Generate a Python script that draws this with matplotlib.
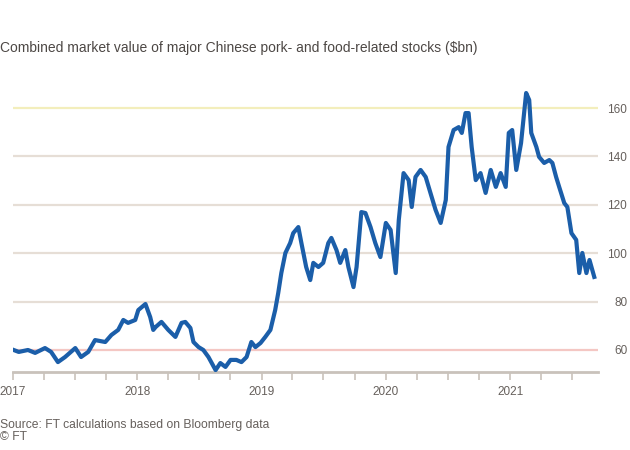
import matplotlib
matplotlib.use("Agg")
import matplotlib.pyplot as plt
import matplotlib.dates as mdates
import pandas as pd

plt.rcParams['font.family'] = ['Liberation Sans', 'DejaVu Sans']

dates = ["2017-01-03", "2017-01-18", "2017-02-14", "2017-03-07", "2017-04-05", "2017-04-23",
         "2017-05-13", "2017-06-03", "2017-07-03", "2017-07-20", "2017-08-10", "2017-08-30",
         "2017-09-29", "2017-10-17", "2017-11-06", "2017-11-21", "2017-12-05", "2017-12-26",
         "2018-01-04", "2018-01-25", "2018-02-08", "2018-02-17", "2018-02-24", "2018-03-13",
         "2018-04-02", "2018-04-23", "2018-05-11", "2018-05-22", "2018-06-06", "2018-06-15",
         "2018-06-30", "2018-07-14", "2018-07-29", "2018-08-19", "2018-09-02", "2018-09-17",
         "2018-10-02", "2018-10-19", "2018-11-03", "2018-11-18", "2018-12-02", "2018-12-14",
         "2018-12-29", "2019-01-12", "2019-01-27", "2019-02-10", "2019-02-19", "2019-02-28",
         "2019-03-12", "2019-03-26", "2019-04-04", "2019-04-19", "2019-04-28", "2019-05-12",
         "2019-05-24", "2019-06-02", "2019-06-17", "2019-07-01", "2019-07-16", "2019-07-25",
         "2019-08-09", "2019-08-20", "2019-09-04", "2019-09-13", "2019-09-28", "2019-10-07",
         "2019-10-21", "2019-11-02", "2019-11-17", "2019-12-01", "2019-12-16", "2020-01-01",
         "2020-01-15", "2020-01-30", "2020-02-08", "2020-02-22", "2020-03-08", "2020-03-17",
         "2020-03-28", "2020-04-12", "2020-04-27", "2020-05-11", "2020-05-26", "2020-06-10",
         "2020-06-25", "2020-07-03", "2020-07-18", "2020-08-02", "2020-08-11", "2020-08-22",
         "2020-08-31", "2020-09-09", "2020-09-21", "2020-10-05", "2020-10-20", "2020-11-04",
         "2020-11-19", "2020-12-03", "2020-12-18", "2020-12-27", "2021-01-06", "2021-01-18",
         "2021-02-01", "2021-02-16", "2021-02-25", "2021-03-03", "2021-03-18", "2021-03-26",
         "2021-04-10", "2021-04-25", "2021-05-04", "2021-05-15", "2021-05-24", "2021-06-08",
         "2021-06-17", "2021-06-29", "2021-07-13", "2021-07-22", "2021-07-31", "2021-08-12",
         "2021-08-21", "2021-09-04"]

values = [60.0, 59.2, 60.0, 58.8, 60.8, 59.2,
          55.0, 57.1, 60.8, 57.1, 59.2, 64.1,
          63.3, 66.2, 68.3, 72.4, 71.2, 72.4,
          76.5, 79.0, 73.6, 68.3, 69.5, 71.6,
          68.3, 65.4, 71.2, 71.6, 69.1, 63.3,
          61.2, 60.0, 57.1, 51.7, 54.6, 53.0,
          55.9, 55.9, 55.0, 57.1, 63.3, 61.2,
          62.9, 65.4, 68.3, 76.5, 83.6, 91.8,
          100.1, 104.2, 108.3, 110.8, 104.2, 94.3,
          88.9, 96.0, 94.3, 96.0, 104.2, 106.3,
          101.3, 96.0, 101.3, 94.3, 86.0, 94.3,
          117.0, 116.6, 110.8, 104.2, 98.4, 112.5,
          109.6, 91.8, 113.7, 133.1, 130.2, 119.1,
          131.5, 134.4, 131.5, 124.9, 117.9, 112.5,
          122.0, 143.9, 150.9, 152.1, 149.7, 157.9,
          157.9, 143.9, 130.2, 133.1, 124.9, 134.4,
          127.4, 133.1, 127.4, 149.7, 150.9, 134.4,
          145.5, 166.2, 163.3, 149.7, 143.9, 139.8,
          137.3, 138.5, 137.3, 131.5, 127.4, 120.7,
          119.1, 108.3, 105.5, 91.8, 100.1, 91.8,
          97.2, 90.2]

y_ticks = [60, 80, 100, 120, 140, 160]

title = "Combined market value of major Chinese pork- and food-related stocks ($bn)"
source = "Source: FT calculations based on Bloomberg data"
credit = "© FT"

dt = pd.to_datetime(dates)

fig = plt.figure(figsize=(6.3, 4.5), dpi=100, facecolor="white")
ax = fig.add_axes([0.0206, 0.1733, 0.9286, 0.6297])
ax.set_facecolor("white")

grid_colors = {60: "#f4c7c3", 160: "#f3eebc"}
for yv in y_ticks:
    ax.axhline(yv, color=grid_colors.get(yv, "#e6ded6"), lw=1.6, zorder=1)

ax.plot(dt, values, color="#1b5ea9", lw=3.0, solid_joinstyle="round", zorder=3)

ax.set_xlim(pd.Timestamp("2017-01-01"), pd.Timestamp("2021-09-15"))
ax.set_ylim(50.9, 168)

for s in ["top", "right", "left"]:
    ax.spines[s].set_visible(False)
ax.spines["bottom"].set_color("#c9c2bb")
ax.spines["bottom"].set_linewidth(2.0)

ax.xaxis.set_major_locator(mdates.YearLocator())
ax.xaxis.set_major_formatter(mdates.DateFormatter("%Y"))
ax.xaxis.set_minor_locator(mdates.MonthLocator(bymonth=[4, 7, 10]))
ax.tick_params(axis="x", which="both", length=6, width=1.2, color="#c9c2bb",
               labelsize=8.5, labelcolor="#66605c", pad=4)

ax.yaxis.tick_right()
ax.set_yticks(y_ticks)
ax.set_yticklabels([str(v) for v in y_ticks])
ax.tick_params(axis="y", length=0, labelsize=8.5, labelcolor="#66605c", pad=21)
for lab in ax.get_yticklabels():
    lab.set_horizontalalignment("right")

fig.text(0.0, 0.893, title, fontsize=10, color="#4d4845", ha="left", va="center")
fig.text(0.0, 0.055, source, fontsize=8.7, color="#66605c", ha="left", va="center")
fig.text(0.0, 0.028, credit, fontsize=8.7, color="#66605c", ha="left", va="center")

fig.savefig("out.png", dpi=100, facecolor="white")
